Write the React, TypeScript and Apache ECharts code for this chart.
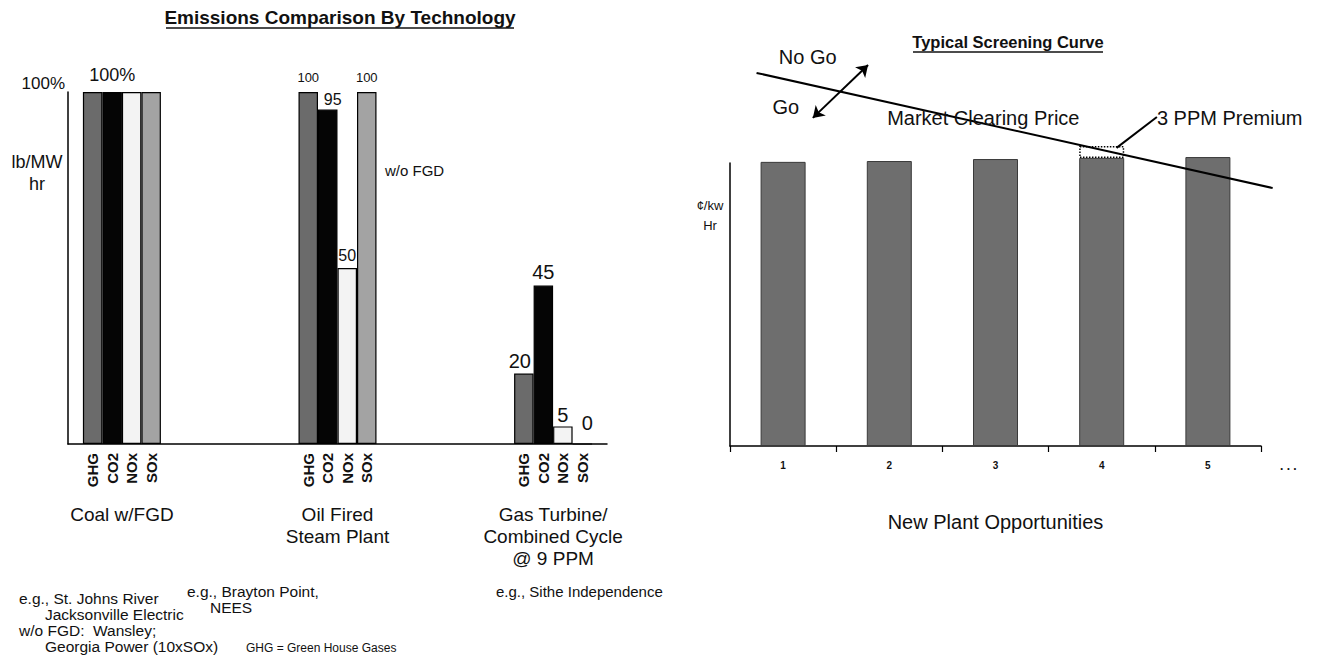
import React, { useEffect, useRef } from 'react';
import * as echarts from 'echarts';

const FONT = "'Liberation Sans', Arial, Helvetica, sans-serif";
const INK = '#111';

// ---------- Left chart data: Emissions Comparison By Technology ----------
const techCategories = ['Coal w/FGD', ' ', 'Oil Fired\nSteam Plant', '  ', 'Gas Turbine/\nCombined Cycle\n@ 9 PPM'];
const pollutants = ['GHG', 'CO2', 'NOx', 'SOx'];
const ghgValues = [100, null, 100, null, 20];
const co2Values = [100, null, 95, null, 45];
const noxValues = [100, null, 50, null, 5];
const soxValues = [100, null, 100, null, 0];
const ghgLabels = ['', '', '100', '', '20'];
const co2Labels = ['100%', '', '95', '', '45'];
const noxLabels = ['', '', '50', '', '5'];
const soxLabels = ['', '', '100', '', '0'];

// ---------- Right chart data: Typical Screening Curve ----------
const plantCategories = ['1', '2', '3', '4', '5'];
const plantCosts = [100.4, 100.7, 101.4, 101.8, 102.1];
const premiumValues = [null, null, null, 4.2, null];
const marketPriceLine = [
  [0.25, 131.9],
  [5.11, 91.2],
];
const goArrow = [
  [0.78, 116.0],
  [1.3, 134.7],
];
const premiumLeader = [
  [3.64, 105.4],
  [4.02, 116.3],
];

const pollutantColors = ['#6b6b6b', '#050505', '#f3f3f3', '#a3a3a3'];

// per-label style tweaks (series index - category index)
const labelStyle: Record<string, { size: number; dist: number; off?: number[] }> = {
  '1-0': { size: 18, dist: 8 },
  '0-2': { size: 13, dist: 8 },
  '1-2': { size: 16, dist: 2, off: [5, 0] },
  '2-2': { size: 16, dist: 5 },
  '3-2': { size: 13, dist: 8 },
  '0-4': { size: 20, dist: 3, off: [-4, 0] },
  '1-4': { size: 20, dist: 4 },
  '2-4': { size: 20, dist: 1 },
  '3-4': { size: 20, dist: 10, off: [5, 0] },
};

function buildOption(): any {
  const values = [ghgValues, co2Values, noxValues, soxValues];
  const labels = [ghgLabels, co2Labels, noxLabels, soxLabels];

  const leftSeries = pollutants.map((name, si) => ({
    type: 'bar',
    name,
    xAxisIndex: 0,
    yAxisIndex: 0,
    barWidth: 19.5,
    barGap: '0%',
    itemStyle: { color: pollutantColors[si], borderColor: '#000', borderWidth: 1.2 },
    data: values[si].map((v, ci) => {
      const lab = labels[si][ci];
      if (!lab) return v;
      const st = labelStyle[`${si}-${ci}`] || { size: 16, dist: 5 };
      return {
        value: v,
        label: {
          show: true,
          position: 'top',
          formatter: lab,
          fontSize: st.size,
          distance: st.dist,
          offset: st.off || [0, 0],
          color: INK,
          fontFamily: FONT,
        },
      };
    }),
  }));

  const txt = (text: string, x: number, y: number, size: number, extra: any = {}) => ({
    type: 'text',
    x,
    y,
    silent: true,
    style: {
      text,
      fontSize: size,
      fontFamily: FONT,
      fontWeight: extra.weight || 'normal',
      fill: INK,
      align: extra.align || 'left',
      verticalAlign: 'middle',
      lineHeight: extra.lh || size + 2,
    },
  });
  const uline = (x1: number, x2: number, y: number) => ({
    type: 'line',
    silent: true,
    shape: { x1, y1: y, x2, y2: y },
    style: { stroke: INK, lineWidth: 1.5 },
  });

  const notePoint = (text: string, coord: number[], size: number) => ({
    coord,
    symbol: 'circle',
    symbolSize: 0,
    label: {
      show: true,
      position: 'right',
      distance: 0,
      formatter: text,
      fontSize: size,
      color: INK,
      fontFamily: FONT,
    },
  });

  return {
    animation: false,
    backgroundColor: '#fff',
    textStyle: { fontFamily: FONT, color: INK },
    grid: [
      { left: 68, right: 712, top: 92, bottom: 222 },
      { left: 730, right: 58, top: 163, bottom: 220 },
      { left: 730, right: 36.8, top: 50, bottom: 220 },
    ],
    xAxis: [
      {
        type: 'category',
        gridIndex: 0,
        position: 'bottom',
        data: techCategories,
        axisLine: { show: true, lineStyle: { color: '#000', width: 1.5 } },
        axisTick: { show: false },
        axisLabel: {
          interval: 0,
          margin: 59,
          fontSize: 19,
          lineHeight: 22,
          color: INK,
          fontFamily: FONT,
        },
      },
      {
        type: 'category',
        gridIndex: 0,
        position: 'bottom',
        data: techCategories,
        axisLine: { show: false },
        axisTick: { show: false },
        axisLabel: {
          interval: 0,
          rotate: 90,
          margin: 9,
          fontSize: 15,
          fontWeight: 'bold',
          lineHeight: 19.5,
          color: INK,
          fontFamily: FONT,
          formatter: (v: string) => (v.trim() ? pollutants.join('\n') : ''),
        },
      },
      {
        type: 'category',
        gridIndex: 1,
        data: plantCategories,
        axisLine: { show: true, lineStyle: { color: '#000', width: 1.5 } },
        axisTick: { show: true, length: 6, lineStyle: { color: '#000', width: 1.2 } },
        axisLabel: { margin: 14, fontSize: 10, fontWeight: 'bold', color: INK, fontFamily: FONT },
        name: 'New Plant Opportunities',
        nameLocation: 'middle',
        nameGap: 66,
        nameTextStyle: { fontSize: 20, color: INK, fontFamily: FONT },
      },
      { type: 'value', gridIndex: 2, min: 0, max: 5.2, show: false },
    ],
    yAxis: [
      {
        type: 'value',
        gridIndex: 0,
        min: 0,
        max: 100,
        interval: 100,
        axisLine: { show: true, lineStyle: { color: '#000', width: 1.5 } },
        axisTick: { show: false },
        splitLine: { show: false },
        axisLabel: {
          margin: 3,
          fontSize: 17,
          color: INK,
          fontFamily: FONT,
          verticalAlign: 'bottom',
          formatter: (v: number) => (v === 100 ? '100%' : ''),
        },
      },
      {
        type: 'value',
        gridIndex: 1,
        min: 0,
        max: 100,
        axisLine: { show: true, lineStyle: { color: '#000', width: 1.5 } },
        axisTick: { show: false },
        splitLine: { show: false },
        axisLabel: { show: false },
      },
      { type: 'value', gridIndex: 2, min: 0, max: 140, show: false },
    ],
    series: [
      ...leftSeries,
      {
        type: 'bar',
        name: 'Plant cost',
        xAxisIndex: 2,
        yAxisIndex: 1,
        stack: 'plant',
        barWidth: 45,
        clip: false,
        itemStyle: { color: '#6e6e6e', borderColor: '#3a3a3a', borderWidth: 1 },
        data: plantCosts,
      },
      {
        type: 'bar',
        name: 'Premium',
        xAxisIndex: 2,
        yAxisIndex: 1,
        stack: 'plant',
        barWidth: 45,
        clip: false,
        itemStyle: { color: 'rgba(0,0,0,0)', borderColor: '#000', borderWidth: 1.5, borderType: 'dotted' },
        data: premiumValues,
      },
      {
        type: 'line',
        name: 'Market Clearing Price',
        xAxisIndex: 3,
        yAxisIndex: 2,
        clip: false,
        symbol: 'none',
        lineStyle: { color: '#000', width: 2 },
        data: marketPriceLine,
        markLine: {
          silent: true,
          animation: false,
          label: { show: false },
          lineStyle: { color: '#000', width: 2, type: 'solid' },
          data: [
            [
              { coord: goArrow[0], symbol: 'arrow', symbolSize: 11 },
              { coord: goArrow[1], symbol: 'arrow', symbolSize: 11 },
            ],
            [
              { coord: premiumLeader[0], symbol: 'none' },
              { coord: premiumLeader[1], symbol: 'none' },
            ],
          ],
        },
        markPoint: {
          silent: true,
          data: [
            notePoint('No Go', [0.46, 137.5], 20),
            notePoint('Go', [0.4, 119.8], 20),
            notePoint('Market Clearing Price', [1.48, 116.0], 20),
            notePoint('3 PPM Premium', [4.02, 116.0], 20),
          ],
        },
      },
    ],
    graphic: [
      txt('Emissions Comparison By Technology', 340, 17, 19, { weight: 'bold', align: 'center' }),
      uline(166, 514, 28),
      txt('Typical Screening Curve', 1008, 42, 16.5, { weight: 'bold', align: 'center' }),
      uline(913, 1103, 52),
      txt('lb/MW\nhr', 37, 173, 18, { align: 'center', lh: 22 }),
      txt('w/o FGD', 385, 170, 15),
      txt('¢/kw\nHr', 710, 215, 13, { align: 'center', lh: 20 }),
      txt('. . .', 1280, 466, 12, { weight: 'bold' }),
      txt('e.g., St. Johns River', 19, 598, 15.5),
      txt('Jacksonville Electric', 45, 614, 15.5),
      txt('w/o FGD:  Wansley;', 19, 630, 15.5),
      txt('Georgia Power (10xSOx)', 45, 646, 15.5),
      txt('e.g., Brayton Point,', 187, 591, 15.5),
      txt('NEES', 210, 607, 15.5),
      txt('e.g., Sithe Independence', 496, 591, 15),
      txt('GHG = Green House Gases', 246, 648, 12),
    ],
  };
}

export default function App() {
  const ref = useRef<HTMLDivElement>(null);
  useEffect(() => {
    document.body.style.margin = '0';
    const chart = echarts.init(ref.current as HTMLDivElement, null, { renderer: 'svg' });
    chart.setOption(buildOption());
    return () => chart.dispose();
  }, []);
  return <div ref={ref} style={{ width: 1319, height: 666 }} />;
}
